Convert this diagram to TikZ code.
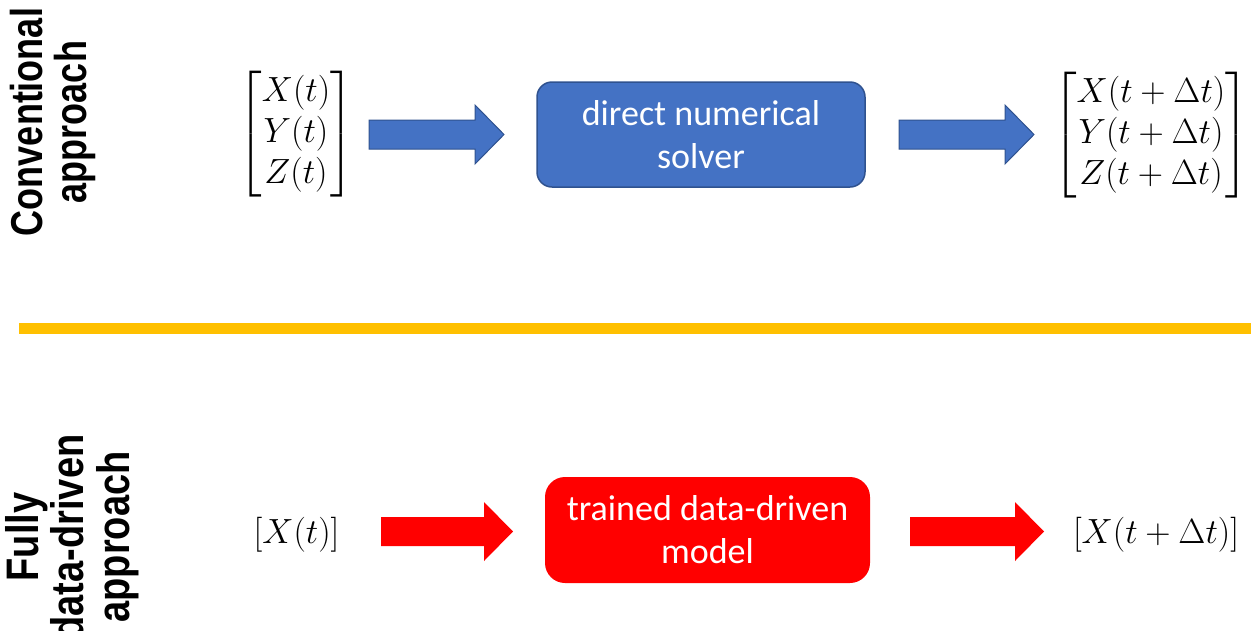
\documentclass[tikz,border=0pt]{standalone}
\usepackage{amsmath}
\usepackage[no-math]{fontspec}
\setmainfont{Carlito}
\newfontfamily\labelfont{Liberation Sans}

\definecolor{solverblue}{HTML}{4472C4}
\definecolor{solveredge}{HTML}{2F528F}
\definecolor{modelred}{HTML}{FF0000}
\definecolor{divideryellow}{HTML}{FFC000}

\tikzset{
  approachlabel/.style={rotate=90, align=center, inner sep=0pt},
  statevec/.style={font=\fontsize{24.88}{29.1}\selectfont, scale=1.407, inner sep=0pt},
  solverbox/.style={rounded corners=15pt, align=center, text=white,
    font=\fontsize{36}{43}\selectfont, minimum width=328pt, minimum height=105pt}
}

\begin{document}
\begin{tikzpicture}[x=1pt, y=-1pt]
    \useasboundingbox (0,0) rectangle (1251,630);

    % Side labels
    \node[approachlabel, yscale=1.24, font=\labelfont\bfseries\fontsize{36}{33}\selectfont] (convlabel) at (53,122) {Conventional\\[3pt]approach};
    \node[approachlabel, yscale=1.2, font=\labelfont\bfseries\fontsize{38}{36}\selectfont] (datalabel) at (72,537) {Fully\\[2pt]data-driven\\[2pt]approach};

    % Conventional approach
    \node[statevec] (convin) at (296,134) {\setlength\arraycolsep{1pt}$\begin{bmatrix} X(t)\\ Y(t)\\ Z(t) \end{bmatrix}$};
    \filldraw[fill=solverblue, draw=solveredge, line width=1pt] (369,120) -- (475,120) -- (475,105) -- (504,134.5) -- (475,164) -- (475,149) -- (369,149) -- cycle;
    \node[solverbox, fill=solverblue, draw=solveredge, line width=1.5pt] (solver) at (701,134.5) {direct numerical\\solver};
    \filldraw[fill=solverblue, draw=solveredge, line width=1pt] (899,120) -- (1005,120) -- (1005,105) -- (1034,134.5) -- (1005,164) -- (1005,149) -- (899,149) -- cycle;
    \node[statevec] (convout) at (1151,135) {\setlength\arraycolsep{1pt}$\begin{bmatrix} X(t+\Delta t)\\ Y(t+\Delta t)\\ Z(t+\Delta t) \end{bmatrix}$};

    % Divider
    \draw[divideryellow, line width=11pt] (19,328.5) -- (1251,328.5);

    % Fully data-driven approach
    \node[statevec] (datain) at (296.5,535) {$[X(t)]$};
    \fill[modelred] (381,517) -- (484,517) -- (484,502) -- (513,531.5) -- (484,561) -- (484,546) -- (381,546) -- cycle;
    \node[solverbox, rounded corners=20pt, fill=modelred, minimum width=325pt, minimum height=106pt] (model) at (707.5,530) {trained data-driven\\model};
    \fill[modelred] (910,517) -- (1015,517) -- (1015,502) -- (1044,531.5) -- (1015,561) -- (1015,546) -- (910,546) -- cycle;
    \node[statevec] (dataout) at (1156,535) {$[X(t+\Delta t)]$};
  \end{tikzpicture}
\end{document}
